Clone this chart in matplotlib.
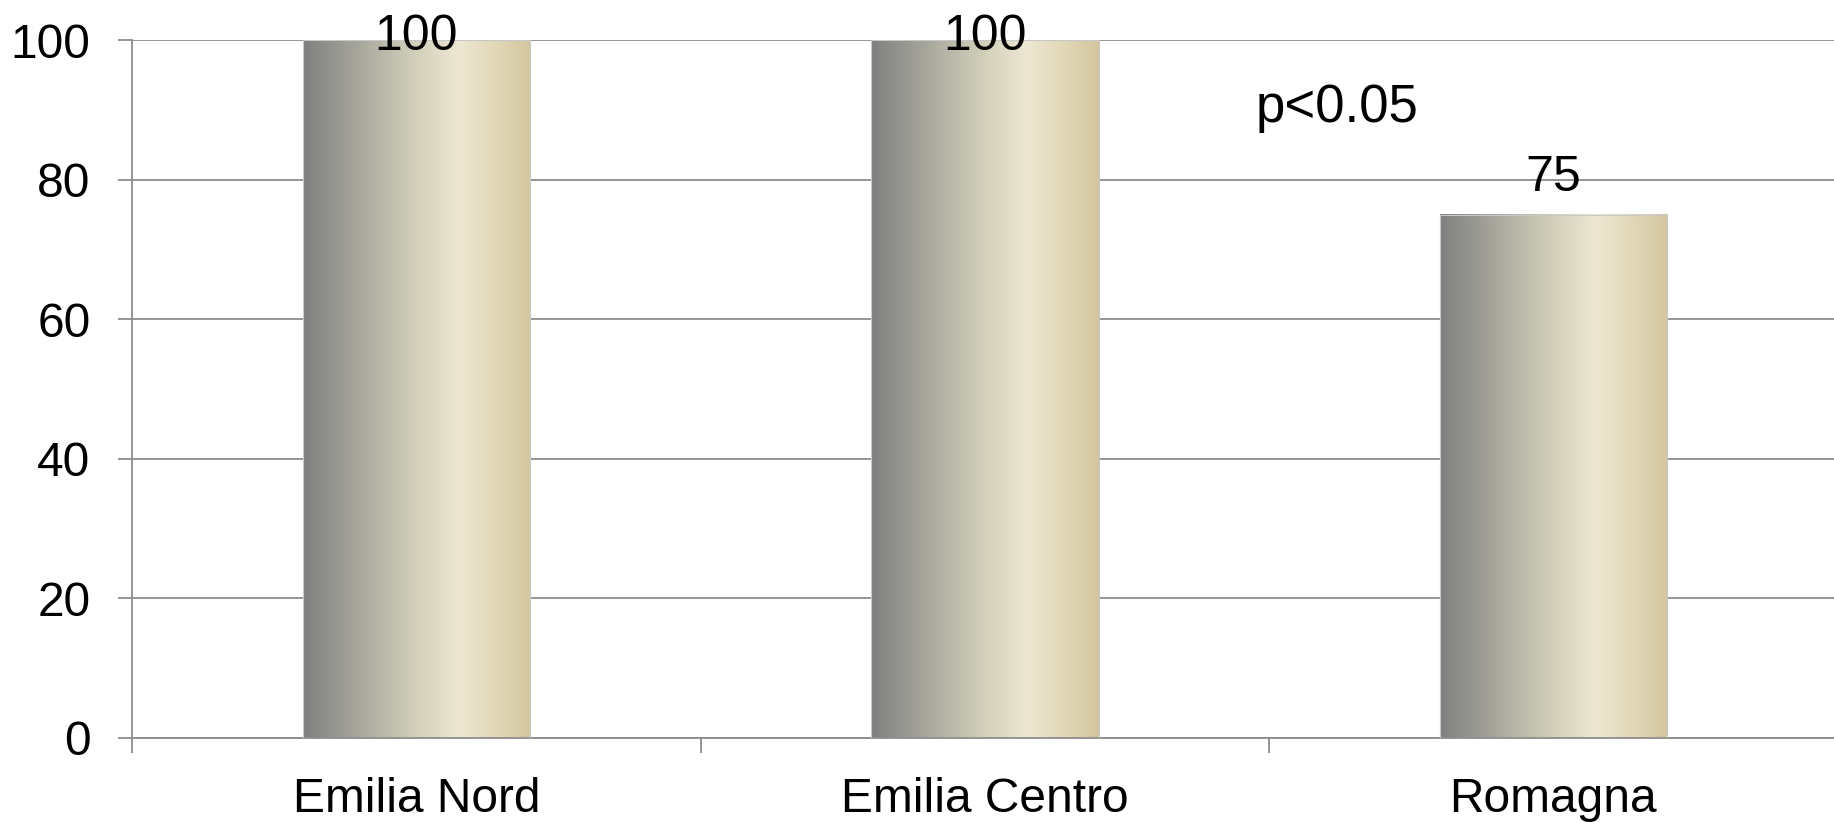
import numpy as np
import matplotlib
matplotlib.use("Agg")
import matplotlib.pyplot as plt
from matplotlib.colors import LinearSegmentedColormap

categories = ["Emilia Nord", "Emilia Centro", "Romagna"]
values = [100, 100, 75]
yticks = [0, 20, 40, 60, 80, 100]
annotation = "p<0.05"

plt.rcParams['font.family'] = ['Liberation Sans', 'DejaVu Sans']
FS = 34.5

fig = plt.figure(figsize=(18.34, 8.22), dpi=100)
ax = fig.add_axes([0.072, 0.1022, 0.93, 0.8491])

x = np.arange(len(categories))
bars = ax.bar(x, values, width=0.4, facecolor='none', edgecolor='#c8c8c8', linewidth=0.8, zorder=3)

cmap = LinearSegmentedColormap.from_list("metal", [
    (0.0, "#7f7f7f"), (0.22, "#a3a39a"), (0.45, "#cbc9b5"),
    (0.68, "#ede7d2"), (0.85, "#e2d8b8"), (1.0, "#d3c69f")])
grad = np.linspace(0, 1, 256).reshape(1, -1)
for b in bars:
    x0, w, h = b.get_x(), b.get_width(), b.get_height()
    ax.imshow(grad, cmap=cmap, aspect='auto', extent=[x0, x0 + w, 0, h],
              zorder=2, interpolation='bilinear')

ax.set_xlim(-0.5, 2.5)
ax.set_ylim(0, 100)
ax.set_yticks(yticks)
ax.set_xticks(x)
ax.set_xticklabels(categories, fontsize=FS)
ax.set_xticks([-0.5, 0.5, 1.5, 2.5], minor=True)
ax.tick_params(axis='x', which='major', length=0, pad=28)
ax.tick_params(axis='x', which='minor', length=11, width=1.3, color='#8c8c8c')
ax.tick_params(axis='y', length=10, width=1.3, color='#8c8c8c', labelsize=FS, pad=20)

ax.grid(axis='y', color='#8c8c8c', linewidth=1.3, zorder=1)
ax.set_axisbelow(True)
for s in ['top', 'right']:
    ax.spines[s].set_visible(False)
for s in ['left', 'bottom']:
    ax.spines[s].set_color('#8c8c8c')
    ax.spines[s].set_linewidth(1.3)

for xi, v in zip(x, values):
    ty = min(v + 5.2, 100.4)
    ax.text(xi, ty, f"{v}", ha='center', va='center', fontsize=36, zorder=5, clip_on=False)

ax.text(1.477, 90.2, annotation, ha='left', va='center', fontsize=38)

fig.savefig("out.png", dpi=100)
